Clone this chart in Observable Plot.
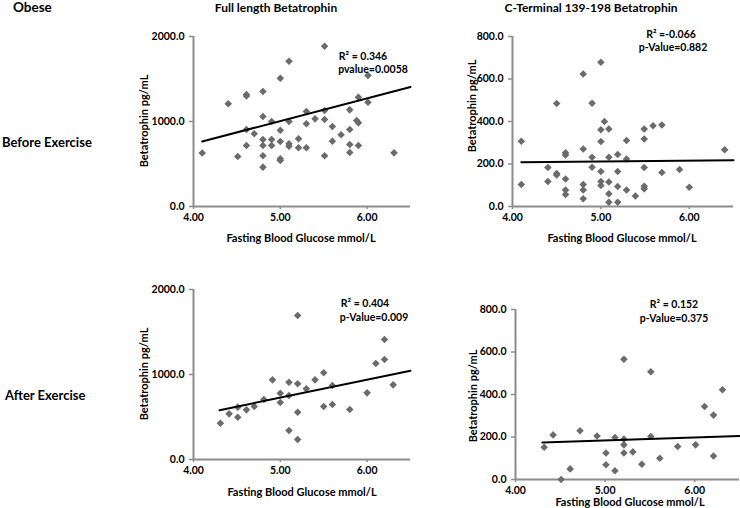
<!DOCTYPE html>
<html>
<head>
<meta charset="utf-8">
<script src="https://cdn.jsdelivr.net/npm/d3@7"></script>
<script src="https://cdn.jsdelivr.net/npm/@observablehq/plot@0.6"></script>
<style>
  html, body { margin: 0; padding: 0; background: #fff; }
  #wrap { position: relative; width: 740px; height: 508px; overflow: hidden; background: #fff;
          font-family: Lato, "Open Sans", sans-serif; font-weight: bold; color: #000; }
  .t { position: absolute; white-space: nowrap; line-height: 1; }
  svg { position: absolute; overflow: visible; }
</style>
</head>
<body>
<div id="wrap"></div>
<script>
// ---- data ----
const xTicks = [4, 5, 6];
const xDomain = [4, 6.5];
const yTicksFull = [0, 1000, 2000];
const yTicksCterm = [0, 200, 400, 600, 800];

// Before exercise, full length
const fbgBeforeFull = [4.10,4.40,4.51,4.61,4.61,4.61,4.61,4.70,4.80,4.80,4.80,4.80,4.80,4.80,4.90,4.90,4.90,5.00,5.00,5.00,5.00,5.00,5.10,5.10,5.10,5.10,5.21,5.21,5.30,5.30,5.30,5.40,5.51,5.51,5.51,5.51,5.60,5.60,5.70,5.80,5.80,5.80,5.80,5.88,5.90,5.90,5.90,6.01,6.01,6.31];
const betaBeforeFull = [630,1208,588,1318,1300,906,718,855,1353,1059,788,718,596,463,1000,788,718,1510,898,765,561,541,1710,1000,737,710,796,690,1118,973,690,1031,1886,1129,1024,596,941,769,843,1137,906,729,635,1012,984,1286,718,1541,1227,631];
const fitXBeforeFull = [4.1, 6.5];
const fitYBeforeFull = [765, 1406];

// Before exercise, C-terminal
const fbgBeforeCterm = [4.10,4.10,4.40,4.40,4.50,4.50,4.50,4.60,4.60,4.60,4.60,4.60,4.80,4.80,4.80,4.80,4.80,4.90,4.90,4.90,5.00,5.00,5.00,5.00,5.00,5.00,5.04,5.09,5.09,5.09,5.09,5.09,5.19,5.19,5.19,5.19,5.29,5.29,5.29,5.39,5.49,5.49,5.49,5.49,5.49,5.59,5.69,5.69,5.89,6.00,6.40];
const betaBeforeCterm = [307,104,184,118,155,148,485,253,242,129,78,56,624,271,104,78,36,486,232,185,679,361,306,165,118,99,400,365,232,115,60,20,20,245,165,94,311,224,78,49,365,318,184,95,83,380,384,160,174,91,267];
const fitXBeforeCterm = [4.1, 6.5];
const fitYBeforeCterm = [208, 218];

// After exercise, full length
const fbgAfterFull = [4.31,4.41,4.51,4.51,4.61,4.70,4.81,4.91,5.00,5.00,5.10,5.10,5.10,5.20,5.20,5.20,5.20,5.30,5.40,5.50,5.50,5.60,5.60,5.80,6.00,6.10,6.20,6.20,6.30];
const betaAfterFull = [427,537,498,616,584,624,706,937,780,671,910,753,341,1694,890,557,235,831,937,1020,624,871,647,588,784,1129,1412,1176,878];
const fitXAfterFull = [4.3, 6.5];
const fitYAfterFull = [580, 1045];

// After exercise, C-terminal
const fbgAfterCterm = [4.32,4.42,4.51,4.61,4.72,4.91,5.01,5.01,5.11,5.11,5.21,5.21,5.21,5.21,5.31,5.41,5.51,5.51,5.61,5.81,6.01,6.11,6.21,6.21,6.31];
const betaAfterCterm = [152,210,0,50,229,205,125,69,198,41,190,163,125,566,130,72,507,202,100,155,163,344,303,111,422];
const fitXAfterCterm = [4.3, 6.5];
const fitYAfterCterm = [174, 205];

// ---- texts ----
const xTitle = "Fasting Blood Glucose mmol/L";
const yTitle = "Betatrophin pg/mL";

// ---- drawing ----
const wrap = document.getElementById("wrap");
const AXIS = "#8c8c8c";

function panel(xs, ys, fx, fy, yTicks, box) {
  const pts = xs.map((x, i) => ({x, y: ys[i]}));
  const fit = fx.map((x, i) => ({x, y: fy[i]}));
  const yDomain = [yTicks[0], yTicks[yTicks.length - 1]];
  const svg = Plot.plot({
    width: box.w, height: box.h,
    marginLeft: box.ml, marginRight: box.mr, marginTop: box.mt, marginBottom: box.mb,
    style: {fontFamily: "Lato, 'Open Sans', sans-serif", fontSize: "10.5px", fontWeight: "bold", background: "transparent", color: "#000"},
    x: {domain: xDomain},
    y: {domain: yDomain},
    marks: [
      Plot.axisX({ticks: xTicks, tickFormat: d3.format(".2f"), tickSize: 3, tickPadding: 4, stroke: AXIS, strokeWidth: 1.5, fill: "#000", label: null}),
      Plot.axisY({ticks: yTicks, tickFormat: d3.format(".1f"), tickSize: 4, tickPadding: 5, stroke: AXIS, strokeWidth: 1.5, fill: "#000", label: null}),
      Plot.ruleY([yDomain[0]], {stroke: AXIS, strokeWidth: 2}),
      Plot.ruleX([xDomain[0]], {stroke: AXIS, strokeWidth: 2}),
      Plot.dot(pts, {x: "x", y: "y", symbol: "diamond2", r: 3.4, fill: "#6b6b6b", stroke: "none"}),
      Plot.line(fit, {x: "x", y: "y", stroke: "#000", strokeWidth: 2})
    ]
  });
  svg.style.left = box.left + "px";
  svg.style.top = box.top + "px";
  wrap.appendChild(svg);
}

panel(fbgBeforeFull, betaBeforeFull, fitXBeforeFull, fitYBeforeFull, yTicksFull,
  {left: 130, top: 20, w: 290, h: 210, ml: 63, mr: 10, mt: 16, mb: 24});
panel(fbgBeforeCterm, betaBeforeCterm, fitXBeforeCterm, fitYBeforeCterm, yTicksCterm,
  {left: 450, top: 20, w: 290, h: 210, ml: 62, mr: 7, mt: 16, mb: 24});
panel(fbgAfterFull, betaAfterFull, fitXAfterFull, fitYAfterFull, yTicksFull,
  {left: 130, top: 270, w: 290, h: 210, ml: 63, mr: 10, mt: 19, mb: 21});
panel(fbgAfterCterm, betaAfterCterm, fitXAfterCterm, fitYAfterCterm, yTicksCterm,
  {left: 450, top: 290, w: 290, h: 210, ml: 65, mr: 1, mt: 19, mb: 21});

function label(text, x, cy, size, opts = {}) {
  const d = document.createElement("div");
  d.className = "t";
  d.textContent = text;
  d.style.left = x + "px";
  d.style.top = cy + "px";
  d.style.fontSize = size + "px";
  const tx = opts.start ? "0" : "-50%";
  d.style.transform = `translate(${tx},-50%)` + (opts.rotate ? " rotate(-90deg)" : "");
  wrap.appendChild(d);
}

label("Obese", 13, 8, 13.5, {start: true});
label("Full length Betatrophin", 276, 8, 12);
label("C-Terminal 139-198 Betatrophin", 591, 8, 12);
label("Before Exercise", 2, 142, 13, {start: true});
label("After Exercise", 5, 395, 13, {start: true});

label(yTitle, 143, 121, 11, {rotate: true});
label(yTitle, 471, 106, 11, {rotate: true});
label(yTitle, 143, 374, 11, {rotate: true});
label(yTitle, 472, 396, 11, {rotate: true});

label(xTitle, 301, 237, 11);
label(xTitle, 622, 237, 11);
label(xTitle, 302, 491, 11);
label(xTitle, 630, 501, 11);

label("R\u00b2 = 0.346", 363, 56, 10.5);
label("pvalue=0.0058", 373, 69, 10.5);
label("R\u00b2 =-0.066", 671, 34, 10.5);
label("p-Value=0.882", 673, 47, 10.5);
label("R\u00b2 = 0.404", 365, 303, 10.5);
label("p-Value=0.009", 374, 317, 10.5);
label("R\u00b2 = 0.152", 674, 304, 10.5);
label("p-Value=0.375", 674, 318, 10.5);
</script>
</body>
</html>
